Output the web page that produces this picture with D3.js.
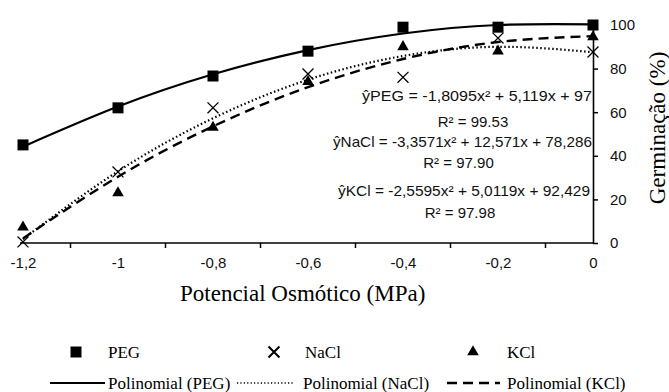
<!DOCTYPE html>
<html>
<head>
<meta charset="utf-8">
<script src="https://cdn.jsdelivr.net/npm/d3@7"></script>
<style>
  body { margin: 0; background: #fff; }
  svg { display: block; }
</style>
</head>
<body>
<script>
// categories on the x axis (osmotic potential, MPa)
var categories = ['-1,2', '-1', '-0,8', '-0,6', '-0,4', '-0,2', '0']
var yTicks = [0, 20, 40, 60, 80, 100]

// germination (%) observed
var pegValues  = [45, 62, 76.6, 88, 99, 99, 100]
var naclValues = [0.5, 32.6, 62, 77.5, 76, 94, 87.6]
var kclValues  = [7.3, 23, 53, 74, 90, 88, 94.5]

// polynomial trendline values at each category
var pegTrend  = [44.2, 62.6, 77.4, 88.5, 96.1, 100.0, 100.3]
var naclTrend = [1.8, 32.9, 57.2, 74.9, 85.8, 90.0, 87.5]
var kclTrend  = [2.1, 30.4, 53.5, 71.5, 84.4, 92.2, 94.9]

var seriesNames = ['PEG', 'NaCl', 'KCl']
var trendNames = ['Polinomial (PEG)', 'Polinomial (NaCl)', 'Polinomial (KCl)']
var equations = ['ŷPEG = -1,8095x² + 5,119x + 97', 'ŷNaCl = -3,3571x² + 12,571x + 78,286', 'ŷKCl = -2,5595x² + 5,0119x + 92,429']
var rSquared = ['R² = 99.53', 'R² = 97.90', 'R² = 97.98']

function main() {
    var svg = d3.select('body').append('svg')
        .attr('width', 669).attr('height', 392)

    var x = d3.scalePoint().domain(categories).range([23, 593])
    var y = d3.scaleLinear().domain([0, 100]).range([243, 25])

    var sans = "'Liberation Sans', Arial, sans-serif"
    var serif = "'Liberation Serif', 'Times New Roman', serif"

    // x axis: labels on categories, tick marks between them
    var xAxis = svg.append('g').attr('transform', 'translate(0,243)')
        .call(d3.axisBottom(x).tickSize(0).tickPadding(14))
    xAxis.attr('font-family', null)
    xAxis.select('.domain').attr('d', 'M20,0H593').attr('stroke', '#000').attr('stroke-width', 1.6)
    xAxis.selectAll('text').style('font-family', sans).style('font-size', '15px').attr('fill', '#111')
    var mids = d3.range(categories.length - 1).map(function(i) {
        return (x(categories[i]) + x(categories[i + 1])) / 2
    })
    xAxis.selectAll('.midtick').data(mids).enter().append('line')
        .attr('x1', function(d) { return d }).attr('x2', function(d) { return d })
        .attr('y1', 0).attr('y2', 5).attr('stroke', '#000').attr('stroke-width', 1.5)

    // y axis on the right
    var yAxis = svg.append('g').attr('transform', 'translate(593,0)')
        .call(d3.axisRight(y).tickValues(yTicks).tickSize(5).tickSizeOuter(0).tickPadding(12))
    yAxis.attr('font-family', null)
    yAxis.select('.domain').attr('stroke', '#000').attr('stroke-width', 1.6)
    yAxis.selectAll('line').attr('stroke', '#000').attr('stroke-width', 1.5)
    yAxis.selectAll('text').style('font-family', sans).style('font-size', '15px').attr('fill', '#111')

    // trendlines
    var line = d3.line()
        .x(function(d, i) { return x(categories[i]) })
        .y(function(d) { return y(d) })
        .curve(d3.curveNatural)
    var styles = [
        { dash: null, width: 2.2 },
        { dash: '1.5,2.5', width: 2.2 },
        { dash: '10,6', width: 2.4 }
    ]
    ;[pegTrend, naclTrend, kclTrend].forEach(function(vals, k) {
        svg.append('path').attr('d', line(vals))
            .attr('fill', 'none').attr('stroke', '#000')
            .attr('stroke-width', styles[k].width)
            .attr('stroke-dasharray', styles[k].dash)
    })

    // markers
    var square = d3.symbol(d3.symbolSquare, 121)
    var times = d3.symbol(d3.symbolTimes, 80)
    var tri = d3.symbol(d3.symbolTriangle, 58)
    function drawMarkers(vals, sym, isStroke) {
        svg.append('g').selectAll('path').data(vals).enter().append('path')
            .attr('transform', function(d, i) { return 'translate(' + x(categories[i]) + ',' + y(d) + ')' })
            .attr('d', sym)
            .attr('fill', isStroke ? 'none' : '#000')
            .attr('stroke', isStroke ? '#000' : null)
            .attr('stroke-width', isStroke ? 1.3 : null)
    }
    drawMarkers(naclValues, times, true)
    drawMarkers(kclValues, tri, false)
    drawMarkers(pegValues, square, false)

    // equations
    var eqBlocks = [
        { x1: 362, x2: 592, y: 101, ry: 127 },
        { x1: 333, x2: 592, y: 147, ry: 168 },
        { x1: 338, x2: 590, y: 196, ry: 218 }
    ]
    eqBlocks.forEach(function(b, k) {
        svg.append('text').attr('x', b.x1).attr('y', b.y)
            .style('font-family', sans).style('font-size', '15px').attr('fill', '#111')
            .attr('textLength', b.x2 - b.x1).attr('lengthAdjust', 'spacingAndGlyphs')
            .text(equations[k])
        svg.append('text').attr('x', (b.x1 + b.x2) / 2 - 4).attr('y', b.ry)
            .attr('text-anchor', 'middle')
            .style('font-family', sans).style('font-size', '15px').attr('fill', '#111')
            .text(rSquared[k])
    })

    // axis titles
    svg.append('text').attr('x', 180).attr('y', 301)
        .style('font-family', serif).style('font-size', '23px')
        .text('Potencial Osmótico (MPa)')
    svg.append('text').attr('transform', 'translate(665,128) rotate(-90)')
        .attr('text-anchor', 'middle')
        .style('font-family', serif).style('font-size', '23px')
        .text('Germinação (%)')

    // legend
    var legMarkers = [
        { sym: square, stroke: false, mx: 76, tx: 108 },
        { sym: times, stroke: true, mx: 274, tx: 305 },
        { sym: tri, stroke: false, mx: 473, tx: 507 }
    ]
    legMarkers.forEach(function(m, k) {
        svg.append('path').attr('transform', 'translate(' + m.mx + ',352)')
            .attr('d', m.sym)
            .attr('fill', m.stroke ? 'none' : '#000')
            .attr('stroke', m.stroke ? '#000' : null)
            .attr('stroke-width', m.stroke ? 2 : null)
        svg.append('text').attr('x', m.tx).attr('y', 358)
            .style('font-family', serif).style('font-size', '17px')
            .text(seriesNames[k])
    })
    var legLines = [
        { x1: 50, x2: 105, tx: 108, dash: null, w: 2.2 },
        { x1: 237, x2: 293, tx: 303, dash: '1.2,2.2', w: 1.6 },
        { x1: 447, x2: 500, tx: 507, dash: '10,6', w: 2.6 }
    ]
    legLines.forEach(function(l, k) {
        svg.append('line').attr('x1', l.x1).attr('x2', l.x2).attr('y1', 383).attr('y2', 383)
            .attr('stroke', '#000').attr('stroke-width', l.w).attr('stroke-dasharray', l.dash)
        svg.append('text').attr('x', l.tx).attr('y', 389)
            .style('font-family', serif).style('font-size', '17px')
            .text(trendNames[k])
    })
}

main()
</script>
</body>
</html>
